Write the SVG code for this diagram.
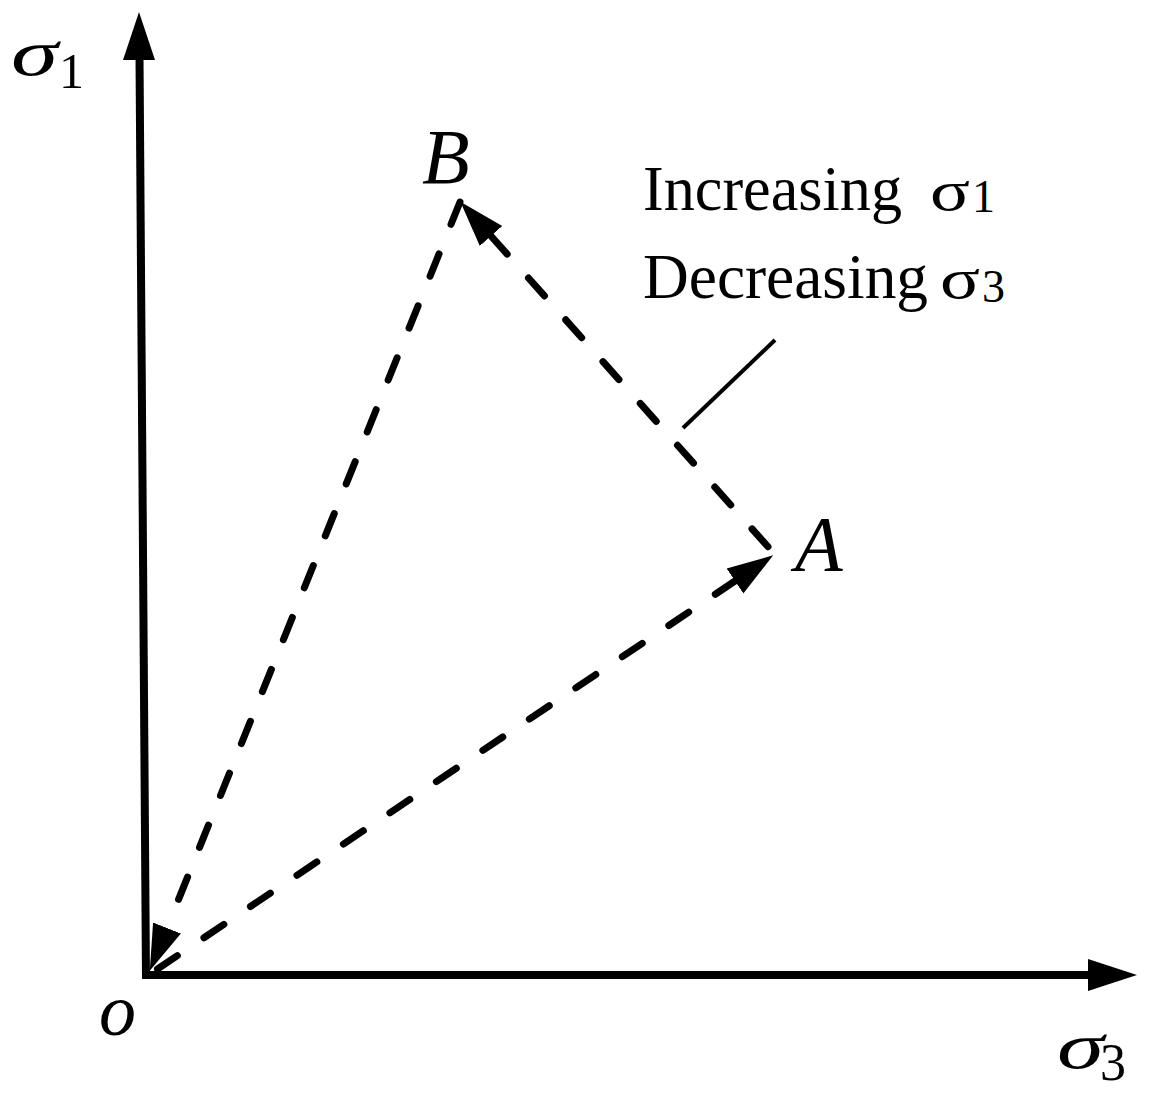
<svg xmlns="http://www.w3.org/2000/svg" width="1157" height="1098" viewBox="0 0 1157 1098">
<style>
.axis{stroke:#000;stroke-width:8;fill:none}
.dash{stroke:#000;stroke-width:7;fill:none;stroke-dasharray:24 32;stroke-linecap:round}
.lead{stroke:#000;stroke-width:4;fill:none}
.it{font-family:"Liberation Serif","Times New Roman",serif;font-style:italic;fill:#000}
.rm{font-family:"Liberation Serif","Times New Roman",serif;fill:#000}
</style>
<defs>
<marker id="ah" markerUnits="userSpaceOnUse" markerWidth="50" markerHeight="34" viewBox="0 -17 50 34" refX="0" refY="0" orient="auto">
<path d="M0,-15 L46,0 L0,15 z" fill="#000"/>
</marker>
</defs>
<rect width="1157" height="1098" fill="#fff"/>
<g id="axes">
<line class="axis" x1="146" y1="979" x2="139.5" y2="56"/>
<polygon points="139,12 155,60 123,60" fill="#000"/>
<line class="axis" x1="142" y1="975" x2="1090" y2="975"/>
<polygon points="1137,975 1088,959 1088,991" fill="#000"/>
</g>
<g id="connectors">
<path class="dash" d="M460,202 L167,928" marker-end="url(#ah)"/>
<path class="dash" d="M150,974 L735,581" style="stroke-dashoffset:47" marker-end="url(#ah)"/>
<path class="dash" d="M770,549 L491,236" style="stroke-dashoffset:-3" marker-end="url(#ah)"/>
<path class="lead" d="M683,428 L775,340"/>
</g>
<g id="node-O"><text class="it" x="99" y="1035" font-size="74">o</text></g>
<g id="node-A"><text class="it" x="795" y="570" font-size="78">A</text></g>
<g id="node-B"><text class="it" x="422" y="183" font-size="78">B</text></g>
<g id="label-sigma1-axis">
<text class="it" x="11" y="75" font-size="66" textLength="47" lengthAdjust="spacingAndGlyphs">σ</text>
<text class="rm" x="59" y="88" font-size="50">1</text>
</g>
<g id="label-sigma3-axis">
<text class="it" x="1057" y="1068" font-size="66" textLength="47" lengthAdjust="spacingAndGlyphs">σ</text>
<text class="rm" x="1100" y="1080" font-size="52">3</text>
</g>
<g id="label-path">
<text class="rm" x="643" y="210" font-size="64" textLength="259" lengthAdjust="spacingAndGlyphs">Increasing</text>
<text class="rm" x="930" y="210" font-size="58" textLength="40" lengthAdjust="spacingAndGlyphs">σ</text>
<text class="rm" x="972" y="212" font-size="46">1</text>
<text class="rm" x="643" y="298" font-size="64" textLength="285" lengthAdjust="spacingAndGlyphs">Decreasing</text>
<text class="rm" x="940" y="298" font-size="58" textLength="40" lengthAdjust="spacingAndGlyphs">σ</text>
<text class="rm" x="982" y="302" font-size="46">3</text>
</g>
</svg>
